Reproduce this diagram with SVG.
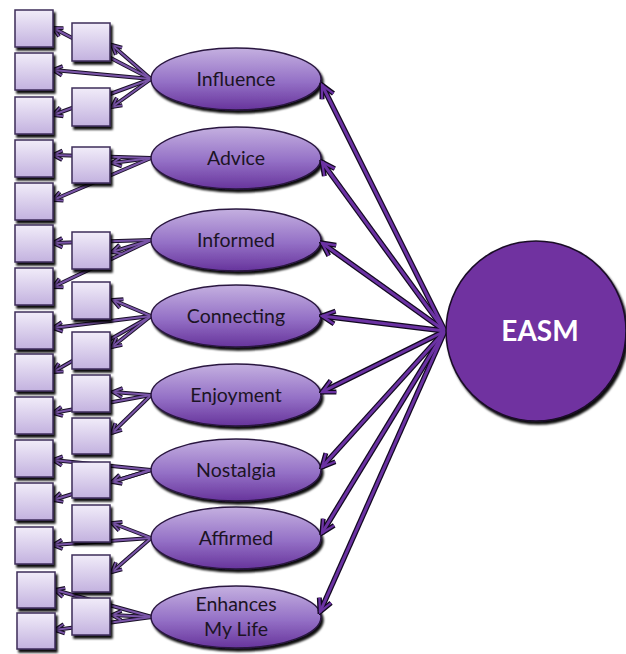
<svg xmlns="http://www.w3.org/2000/svg" width="626" height="654" viewBox="0 0 626 654">
<defs>
<linearGradient id="gBox" x1="0" y1="0" x2="0" y2="1"><stop offset="0" stop-color="#f1ecf9"/><stop offset="1" stop-color="#c3b2df"/></linearGradient>
<linearGradient id="gEll" x1="0" y1="0" x2="0" y2="1"><stop offset="0" stop-color="#c4b0e0"/><stop offset="0.55" stop-color="#9470c6"/><stop offset="1" stop-color="#67349c"/></linearGradient>
<filter id="sh" x="-20%" y="-20%" width="150%" height="150%"><feDropShadow dx="2" dy="3" stdDeviation="1.2" flood-color="#000" flood-opacity="0.95"/></filter>
<marker id="aO" markerUnits="userSpaceOnUse" markerWidth="20" markerHeight="20" refX="10" refY="5" orient="auto" viewBox="-2 -2 14 14"><path d="M1,0.5 L10,5 L1,9.5" fill="none" stroke="#120820" stroke-width="3.5"/></marker>
<marker id="aI" markerUnits="userSpaceOnUse" markerWidth="20" markerHeight="20" refX="10" refY="5" orient="auto" viewBox="-2 -2 14 14"><path d="M1,0.5 L10,5 L1,9.5" fill="none" stroke="#6b32a3" stroke-width="1.6"/></marker>
<marker id="bO" markerUnits="userSpaceOnUse" markerWidth="16" markerHeight="16" refX="8" refY="4" orient="auto" viewBox="-2 -2 12 12"><path d="M1,0.5 L8,4 L1,7.5" fill="none" stroke="#1a1028" stroke-width="3"/></marker>
<marker id="bI" markerUnits="userSpaceOnUse" markerWidth="16" markerHeight="16" refX="8" refY="4" orient="auto" viewBox="-2 -2 12 12"><path d="M1,0.5 L8,4 L1,7.5" fill="none" stroke="#7a55a8" stroke-width="1.3"/></marker>
</defs>
<style>
.box{fill:url(#gBox);stroke:#3d2d5a;stroke-width:1.5;filter:url(#sh)}
.ell{fill:url(#gEll);stroke:#2a1840;stroke-width:1.5;filter:url(#sh)}
.lbl{font-family:Lato,"Open Sans","Liberation Sans",sans-serif;font-size:19.5px;fill:#1c1424;text-anchor:middle}
.big{font-family:Lato,"Open Sans","Liberation Sans",sans-serif;font-size:28px;font-weight:bold;fill:#ffffff;text-anchor:middle}
.lo{stroke:#1a1028;stroke-width:4;fill:none;marker-end:url(#bO)}
.li{stroke:#7a55a8;stroke-width:2;fill:none;marker-end:url(#bI)}
.eo{stroke:#120820;stroke-width:5.5;fill:none;marker-end:url(#aO)}
.ei{stroke:#6b32a3;stroke-width:3;fill:none;marker-end:url(#aI)}
</style>

<g id="connectors">
<g class="lo">
<path d="M151,79 L112,45"/><path d="M151,79 L53,28"/><path d="M151,79 L53,70"/><path d="M151,79 L112,107"/><path d="M151,79 L53,115"/>
<path d="M151,158 L112,163"/><path d="M151,158 L53,155"/><path d="M151,158 L53,200"/>
<path d="M151,240 L112,252"/><path d="M151,240 L53,243"/><path d="M151,240 L53,287"/>
<path d="M151,316 L113,300"/><path d="M151,316 L53,328"/><path d="M151,316 L112,347"/><path d="M151,316 L53,372"/>
<path d="M151,395 L113,392"/><path d="M151,395 L53,413"/><path d="M151,395 L112,433"/>
<path d="M151,470 L53,460"/><path d="M151,470 L112,482"/><path d="M151,470 L53,500"/>
<path d="M151,538 L112,523"/><path d="M151,538 L53,545"/><path d="M151,538 L112,572"/>
<path d="M152,617 L55,590"/><path d="M152,617 L55,630"/><path d="M152,617 L112,615"/>
</g>
<g class="li">
<path d="M151,79 L112,45"/><path d="M151,79 L53,28"/><path d="M151,79 L53,70"/><path d="M151,79 L112,107"/><path d="M151,79 L53,115"/>
<path d="M151,158 L112,163"/><path d="M151,158 L53,155"/><path d="M151,158 L53,200"/>
<path d="M151,240 L112,252"/><path d="M151,240 L53,243"/><path d="M151,240 L53,287"/>
<path d="M151,316 L113,300"/><path d="M151,316 L53,328"/><path d="M151,316 L112,347"/><path d="M151,316 L53,372"/>
<path d="M151,395 L113,392"/><path d="M151,395 L53,413"/><path d="M151,395 L112,433"/>
<path d="M151,470 L53,460"/><path d="M151,470 L112,482"/><path d="M151,470 L53,500"/>
<path d="M151,538 L112,523"/><path d="M151,538 L53,545"/><path d="M151,538 L112,572"/>
<path d="M152,617 L55,590"/><path d="M152,617 L55,630"/><path d="M152,617 L112,615"/>
</g>
</g>

<g id="indicators-left">
<rect class="box" x="15" y="10" width="38" height="37"/>
<rect class="box" x="15" y="53" width="38" height="37"/>
<rect class="box" x="15" y="97" width="38" height="37"/>
<rect class="box" x="15" y="140" width="38" height="37"/>
<rect class="box" x="15" y="183" width="38" height="37"/>
<rect class="box" x="15" y="225" width="38" height="37"/>
<rect class="box" x="15" y="268" width="38" height="37"/>
<rect class="box" x="15" y="312" width="38" height="37"/>
<rect class="box" x="15" y="354" width="38" height="37"/>
<rect class="box" x="15" y="397" width="38" height="37"/>
<rect class="box" x="15" y="440" width="38" height="37"/>
<rect class="box" x="15" y="483" width="38" height="37"/>
<rect class="box" x="15" y="527" width="38" height="37"/>
<rect class="box" x="17" y="572" width="38" height="36"/>
<rect class="box" x="17" y="613" width="38" height="36"/>
</g>

<g id="indicators-right">
<rect class="box" x="72" y="23" width="38" height="38"/>
<rect class="box" x="72" y="88" width="38" height="38"/>
<rect class="box" x="72" y="147" width="38" height="36"/>
<rect class="box" x="72" y="232" width="38" height="37"/>
<rect class="box" x="72" y="282" width="38" height="37"/>
<rect class="box" x="72" y="332" width="38" height="37"/>
<rect class="box" x="72" y="375" width="38" height="37"/>
<rect class="box" x="72" y="418" width="38" height="36"/>
<rect class="box" x="72" y="462" width="38" height="36"/>
<rect class="box" x="72" y="505" width="38" height="37"/>
<rect class="box" x="72" y="555" width="38" height="37"/>
<rect class="box" x="72" y="598" width="38" height="37"/>
</g>

<g id="influence"><ellipse class="ell" cx="236" cy="79" rx="85" ry="31"/><text class="lbl" x="236" y="86">Influence</text></g>
<g id="advice"><ellipse class="ell" cx="236" cy="158" rx="85" ry="31"/><text class="lbl" x="236" y="165">Advice</text></g>
<g id="informed"><ellipse class="ell" cx="236" cy="240" rx="85" ry="31"/><text class="lbl" x="236" y="247">Informed</text></g>
<g id="connecting"><ellipse class="ell" cx="236" cy="316" rx="85" ry="31"/><text class="lbl" x="236" y="323">Connecting</text></g>
<g id="enjoyment"><ellipse class="ell" cx="236" cy="395" rx="85" ry="31"/><text class="lbl" x="236" y="402">Enjoyment</text></g>
<g id="nostalgia"><ellipse class="ell" cx="236" cy="470" rx="85" ry="31"/><text class="lbl" x="236" y="477">Nostalgia</text></g>
<g id="affirmed"><ellipse class="ell" cx="236" cy="538" rx="85" ry="31"/><text class="lbl" x="236" y="545">Affirmed</text></g>
<g id="enhances"><ellipse class="ell" cx="236" cy="617" rx="85" ry="31"/><text class="lbl" x="236" y="611">Enhances</text><text class="lbl" x="236" y="636">My Life</text></g>

<g id="easm-connectors">
<g class="eo">
<path d="M445,331 L322,85"/><path d="M445,331 L322,162"/><path d="M445,331 L322,243"/><path d="M445,331 L322,316"/>
<path d="M445,331 L322,392"/><path d="M445,331 L322,467"/><path d="M445,331 L322,533"/><path d="M445,331 L320,612"/>
</g>
<g class="ei">
<path d="M445,331 L322,85"/><path d="M445,331 L322,162"/><path d="M445,331 L322,243"/><path d="M445,331 L322,316"/>
<path d="M445,331 L322,392"/><path d="M445,331 L322,467"/><path d="M445,331 L322,533"/><path d="M445,331 L320,612"/>
</g>
</g>

<g id="easm">
<circle cx="536" cy="331" r="90" fill="#7030a0" stroke="#1a0d28" stroke-width="1.5" filter="url(#sh)"/>
<text class="big" x="540" y="341">EASM</text>
</g>
</svg>
